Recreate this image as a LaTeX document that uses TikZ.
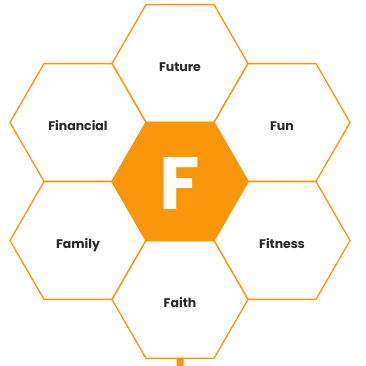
\documentclass[tikz,border=0pt]{standalone}
\usepackage{fontspec}
\setmainfont{Poppins}
\usetikzlibrary{shapes.geometric}
\definecolor{hexorange}{RGB}{250,150,10}
\definecolor{labelgray}{RGB}{40,40,40}

\begin{document}
\begin{tikzpicture}[x=1pt,y=-1pt,
    hexcell/.style={draw=hexorange, line width=1.3pt, regular polygon, regular polygon sides=6,
                    minimum size=136pt, inner sep=0pt, fill=white, text height=15.5pt, text depth=0pt,
                    text=labelgray, font=\fontsize{12.5}{14}\selectfont\bfseries},
    hexcore/.style={hexcell, fill=hexorange, text=white, text height=55pt,
                    font=\fontsize{74}{80}\selectfont\bfseries}]
    \useasboundingbox (0,0) rectangle (365,366);
		    \node[hexcell] (future)    at (180,63.5)  {Future};
		    \node[hexcell] (financial) at (78,122.5)  {Financial};
		    \node[hexcell] (fun)       at (282,122.5) {Fun};
		    \node[hexcell] (family)    at (78,240.5)  {Family};
		    \node[hexcell] (fitness)   at (282,240.5) {Fitness};
		    \node[hexcell] (faith)     at (180,299.5) {Faith};
    		    \node[hexcore] (core)      at (180,181.5) {F};
    \coordinate (stub) at (180,366);
    \draw[hexorange, line width=7pt] (faith.south) -- (stub);
   	\end{tikzpicture}
\end{document}
